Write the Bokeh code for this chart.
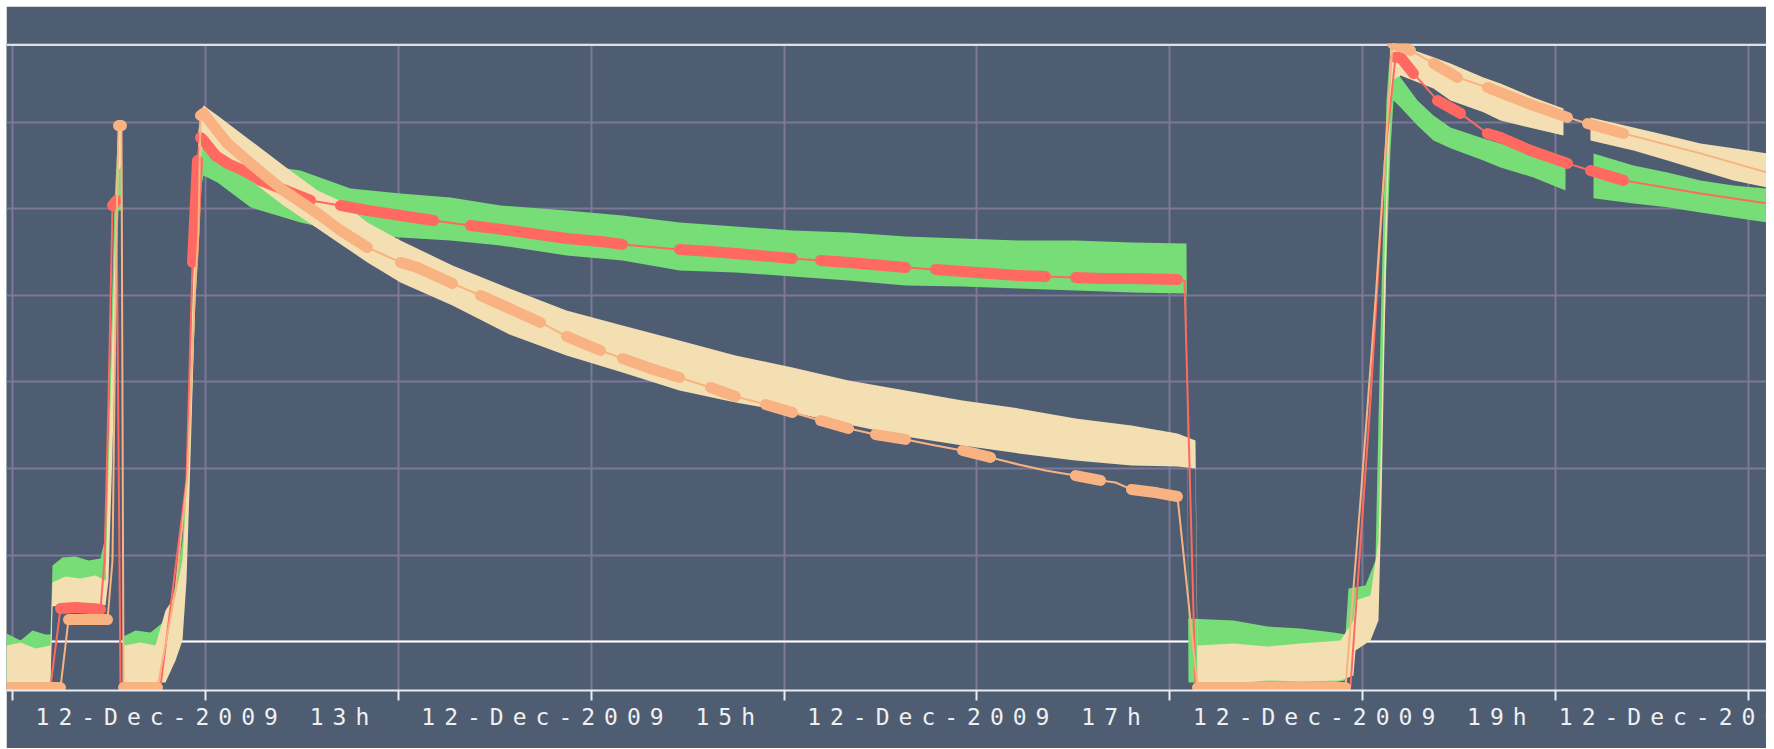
import pandas as pd
from bokeh.plotting import figure
from bokeh.models import FixedTicker, Span, Range1d, CustomJSTickFormatter, DatetimeAxis
from bokeh.embed import file_html
from bokeh.resources import INLINE

BASE = pd.Timestamp("2009-12-12 12:00:00")

# ---------------- axis ticks ----------------
tick_hours = [12, 13, 14, 15, 16, 17, 18, 19, 20, 21]
tick_labels = ["", "12-Dec-2009 13h", "", "12-Dec-2009 15h", "", "12-Dec-2009 17h",
               "", "12-Dec-2009 19h", "", "12-Dec-2009 21h"]
y_grid_values = [0, 5, 10, 15, 20, 25, 30]

# ---------------- data (minutes after 12:00, values) ----------------
# green series: scatter band (upper / lower envelope); None = gap in data
green_min = [-1.87, 2.49, 6.22, 10.26, 11.82, 12.44, 15.55, 19.60, 23.64, 27.37, 28.62, 29.86,
             30.79, 31.73, 32.97, 33.90, 34.53, 38.26, 42.92, 47.59, 50.70, 52.88, 54.12, 55.05,
             55.99, 56.92, 57.85, 58.79, 59.41, 63.76, 74.03, 89.58, 105.13, 120.68, 136.24,
             151.79, 172.32, 189.73, 207.46, 224.88, 242.61, 260.03, 277.76, 295.49, 312.91,
             330.64, 348.05, 365.16, 365.78, 379.78, 390.36, 400.62, 410.88, 414.62, 415.55,
             420.84, 423.95, 424.88, 426.13, 427.37, 428.61, 429.55, 431.72, 437.01, 441.99,
             447.28, 457.54, 462.83, 473.09, 483.05, None, 491.76, 504.20, 514.78, 525.04,
             535.31, 545.57]
green_hi = [0.46, 0.06, 0.64, 0.40, 0.40, 4.39, 4.86, 4.91, 4.68, 4.80, 5.84, 12.20,
            18.55, 25.49, 29.82, 29.82, 0.29, 0.64, 0.52, 1.21, 3.24, 5.84, 9.88, 15.09,
            20.29, 24.33, 28.38, 29.25, 30.11, 28.55, 27.63, 27.22, 26.18, 25.89, 25.66,
            25.20, 24.91, 24.62, 24.22, 23.99, 23.76, 23.64, 23.41, 23.29, 23.18,
            23.18, 23.06, 23.00, 1.33, 1.21, 0.87, 0.75, 0.52, 0.40, 3.06,
            3.24, 4.68, 12.77, 22.60, 31.27, 34.45, 33.58, 32.60, 31.27, 30.40,
            29.71, 29.07, 28.78, 28.38, 27.92, None, 28.21, 27.51, 27.11, 26.65,
            26.36, 26.18]
green_lo = [-2.43, -2.37, -2.43, -2.43, -2.43, 2.25, 2.49, 2.37, 2.49, 2.37, 2.37, 6.99,
            12.20, 18.55, 24.91, 24.91, -2.43, -2.43, -2.43, -1.97, -1.10, 1.21, 4.68, 9.88,
            15.09, 19.71, 22.60, 26.36, 26.93, 26.53, 25.09, 24.22, 23.58, 23.35, 23.18,
            22.89, 22.31, 22.02, 21.44, 21.33, 21.10, 20.87, 20.58, 20.52, 20.40,
            20.29, 20.17, 20.11, -2.37, -2.37, -2.37, -2.37, -2.37, -2.25, 0.06,
            0.35, 1.21, 4.68, 13.93, 22.02, 28.38, 31.27, 30.87, 29.82, 28.96,
            28.50, 27.80, 27.40, 26.82, 26.07, None, 25.61, 25.32, 25.09, 24.80,
            24.51, 24.22]

# wheat series: scatter band (upper / lower envelope)
wheat_min = [-1.87, 2.49, 7.15, 11.82, 12.44, 16.49, 21.15, 25.82, 28.93, 29.86, 31.10, 32.35,
             32.97, 33.90, 34.53, 34.84, 39.81, 44.48, 47.59, 50.70, 52.88, 54.12, 55.05, 55.99,
             56.92, 57.85, 58.79, 59.41, 63.76, 74.03, 84.29, 94.87, 101.71, 110.42, 120.68,
             136.86, 154.59, 172.32, 189.73, 207.46, 224.88, 242.61, 260.03, 277.76, 295.49,
             312.91, 330.64, 348.05, 362.36, 367.96, 368.58, 379.78, 390.36, 400.62, 413.06,
             417.10, 417.73, 422.40, 424.88, 425.82, 426.75, 427.68, 428.61, 429.24, 431.72,
             441.99, 447.28, 457.54, 462.83, 473.09, 482.42, None, 490.82, 504.20, 514.78,
             525.04, 535.31, 545.57]
wheat_hi = [-0.23, -0.06, -0.40, -0.23, 3.41, 3.76, 3.64, 3.81, 3.53, 9.88, 17.98, 26.65,
            29.94, 29.82, 0.06, -0.23, -0.06, -0.23, 1.79, 2.66, 4.68, 8.73, 13.93, 19.71,
            23.76, 29.54, 30.69, 30.98, 30.40, 28.96, 27.51, 26.07, 25.49, 24.22, 23.18,
            21.73, 20.40, 19.13, 18.26, 17.40, 16.53, 15.84, 15.09, 14.51, 13.93,
            13.47, 12.89, 12.48, 12.02, 11.62, -0.23, -0.12, -0.29, -0.12, 0.06,
            1.21, 2.37, 2.66, 5.84, 12.77, 22.02, 28.38, 34.45, 34.62, 34.45,
            33.76, 33.41, 32.60, 32.25, 31.44, 30.81, None, 30.29, 29.71, 29.25,
            28.78, 28.50, 28.21]
wheat_lo = [-2.43, -2.49, -2.43, -2.43, 2.02, 2.14, 2.02, 2.20, 2.08, 3.53, 11.04, 19.71,
            27.22, 27.51, -2.43, -2.43, -2.49, -2.37, -2.37, -1.10, 0.06, 3.53, 8.73, 14.51,
            20.29, 23.76, 28.38, 29.25, 28.38, 26.65, 25.20, 23.87, 23.00, 21.91, 20.75,
            19.42, 17.74, 16.53, 15.55, 14.51, 13.81, 13.24, 12.54, 11.85, 11.33,
            10.87, 10.46, 10.17, 10.12, 10.00, -2.37, -2.43, -2.25, -2.31, -2.25,
            -1.97, -0.52, 0.06, 1.21, 8.15, 17.40, 25.49, 31.27, 32.43, 32.71,
            31.96, 31.27, 30.58, 30.11, 29.65, 29.25, None, 28.96, 28.38, 27.80,
            27.22, 26.65, 26.24]

# red series: trend points; dense = 1 where the samples are packed (drawn as a thick run)
red_min = [-1.87, 11.82, 14.93, 19.60, 24.26, 27.37, 28.62, 29.86, 31.10, 32.35, 33.59, 46.03,
           54.12, 55.99, 57.54, 58.48, 59.41, 63.14, 66.87, 71.85, 77.14, 84.91, 92.69, 102.02,
           110.42, 120.68, 130.95, 142.46, 154.59, 172.32, 182.89, 189.73, 207.46, 217.10,
           224.88, 242.61, 251.32, 260.03, 277.76, 287.09, 295.49, 304.20, 312.91, 321.30,
           330.64, 338.41, 348.05, 362.36, 364.54, 367.96, 400.62, 416.17, 422.40, 427.06,
           430.17, 431.72, 435.77, 443.23, 450.39, 458.78, 462.83, 472.16, 483.67, 490.82,
           501.09, 525.04, 545.57]
red_val = [-2.60, -2.60, 1.91, 1.97, 1.91, 1.85, 4.68, 13.93, 25.20, 25.49, -2.60, -2.60,
           9.31, 21.91, 27.80, 29.13, 28.96, 28.09, 27.63, 27.22, 26.65, 26.07, 25.49, 25.20,
           24.91, 24.62, 24.33, 24.04, 23.76, 23.29, 23.12, 22.95, 22.66, 22.54,
           22.43, 22.14, 22.02, 21.91, 21.62, 21.50, 21.39, 21.27, 21.15, 21.10,
           21.04, 20.98, 20.98, 20.92, 20.87, -2.60, -2.60, -2.60, 13.93, 28.38,
           33.76, 33.76, 32.83, 31.27, 30.52, 29.36, 29.13, 28.38, 27.63, 27.22,
           26.65, 25.89, 25.32]
red_dense = [0, 0, 1, 1, 1, 0, 0, 0, 1, 0, 0, 0,
             0, 1, 0, 1, 1, 1, 1, 1, 1, 1, 0, 1,
             1, 1, 0, 1, 1, 1, 1, 0, 1, 1,
             1, 0, 1, 1, 0, 1, 1, 1, 1, 0,
             1, 1, 1, 0, 0, 0, 0, 0, 0, 0,
             1, 1, 0, 1, 0, 1, 1, 1, 0, 1,
             0, 0, 0]

# orange series
orange_min = [-1.87, 14.93, 17.42, 29.55, 31.10, 32.35, 32.97, 33.90, 34.53, 45.10, 50.70, 54.43,
              56.61, 57.85, 58.48, 59.41, 63.14, 66.87, 74.03, 84.29, 94.87, 102.02, 110.42,
              120.68, 125.97, 136.86, 145.57, 154.59, 164.23, 172.32, 182.89, 189.73, 198.44,
              207.46, 217.10, 224.88, 234.21, 242.61, 251.32, 260.03, 268.43, 277.76, 287.09,
              295.49, 304.20, 312.91, 321.30, 330.64, 338.41, 343.08, 348.05, 355.52, 362.36,
              368.58, 414.62, 419.28, 423.95, 427.06, 429.24, 434.83, 441.99, 449.45, 458.78,
              472.16, 483.67, 489.89, 501.09, 525.04, 545.57]
orange_val = [-2.66, -2.66, 1.27, 1.27, 4.68, 23.93, 29.82, 29.82, -2.66, -2.66, 2.95, 9.59,
              19.71, 23.76, 30.40, 30.52, 29.65, 28.78, 27.63, 26.07, 24.74, 23.76, 22.77,
              21.91, 21.62, 20.69, 20.00, 19.25, 18.44, 17.63, 16.82, 16.36, 15.78,
              15.26, 14.68, 14.16, 13.70, 13.24, 12.77, 12.31, 11.96, 11.68, 11.33,
              11.04, 10.64, 10.23, 9.88, 9.59, 9.31, 9.19, 8.79, 8.61, 8.38,
              -2.66, -2.66, 8.15, 19.71, 28.38, 34.56, 34.16, 33.41, 32.60, 32.02,
              31.04, 30.29, 29.94, 29.36, 28.21, 27.11]
orange_dense = [1, 0, 1, 0, 0, 0, 1, 0, 1, 0, 0, 0,
                0, 0, 1, 1, 1, 1, 1, 1, 1, 1, 0,
                1, 1, 0, 1, 1, 0, 1, 0, 1, 1,
                0, 1, 0, 1, 0, 1, 0, 1, 0, 0,
                1, 0, 0, 0, 1, 0, 0, 1, 1, 0,
                1, 0, 0, 0, 0, 1, 0, 1, 0, 1,
                1, 0, 1, 0, 0, 0]

# ---------------- styling ----------------
BG = "#4f5d73"
GRID = "#7c7896"
GREEN = "#77dd77"
WHEAT = "#f4dfb3"
RED = "#ff6961"
ORANGE = "#f9b282"
AXIS = "#e9ecf0"
LETTER_SPACING_PX = 9
LABEL_SHIFT_PX = 66          # centres the letter-spaced labels on their ticks
PX_PER_MIN = 3.215


def t(mins):
    return [BASE + pd.Timedelta(minutes=m) for m in mins]


def split_gaps(xs, *cols):
    segs, cur = [], [[] for _ in range(len(cols) + 1)]
    for i, x in enumerate(xs):
        if x is None:
            if cur[0]:
                segs.append(cur)
            cur = [[] for _ in range(len(cols) + 1)]
            continue
        cur[0].append(x)
        for j, c in enumerate(cols):
            cur[j + 1].append(c[i])
    if cur[0]:
        segs.append(cur)
    return segs


x_start = BASE + pd.Timedelta(minutes=-1.866)
x_end = BASE + pd.Timedelta(minutes=545.57)

p = figure(width=1760, height=742, x_axis_type="datetime", y_axis_location=None,
           x_range=Range1d(x_start, x_end), y_range=Range1d(-2.83, 34.56),
           output_backend="svg", toolbar_location=None,
           background_fill_color=BG, border_fill_color=BG,
           min_border_left=0, min_border_right=0, min_border_top=37, min_border_bottom=58,
           outline_line_color=None, margin=(6, 8, 0, 6))

tick_ms = [(BASE + pd.Timedelta(hours=h - 12)).value / 1e6 for h in tick_hours]

# axis 1: line + tick marks at the hours
ax = p.xaxis[0]
ax.ticker = FixedTicker(ticks=tick_ms)
ax.formatter = CustomJSTickFormatter(code="return '';")
ax.major_label_text_font_size = "0px"
ax.major_label_standoff = 0
ax.axis_line_color = AXIS
ax.axis_line_width = 2
ax.major_tick_line_color = AXIS
ax.major_tick_line_width = 2
ax.major_tick_out = 10
ax.major_tick_in = 0
ax.minor_tick_line_color = None

# axis 2: the tick labels
shift_ms = LABEL_SHIFT_PX / PX_PER_MIN * 60000.0
lab_pos = [tm - shift_ms for tm in tick_ms]
lab_axis = DatetimeAxis(
    ticker=FixedTicker(ticks=lab_pos),
    formatter=CustomJSTickFormatter(args=dict(tick_pos=lab_pos, tick_text=tick_labels), code="""
        let out = "";
        for (let i = 0; i < tick_pos.length; i++) {
            if (Math.abs(tick_pos[i] - tick) < 1000) { out = tick_text[i]; }
        }
        return out;
    """),
    axis_line_color=None, major_tick_line_color=None, minor_tick_line_color=None,
    major_tick_out=0, major_tick_in=0, major_label_standoff=3,
    major_label_text_font="DejaVu Sans Mono", major_label_text_font_size="23px",
    major_label_text_color="#eef0f2")
p.add_layout(lab_axis, "below")

p.xgrid.ticker = FixedTicker(ticks=tick_ms)
p.xgrid.grid_line_color = GRID
p.xgrid.grid_line_width = 2
p.ygrid.ticker = FixedTicker(ticks=y_grid_values)
p.ygrid.grid_line_color = GRID
p.ygrid.grid_line_width = 2

p.add_layout(Span(location=0, dimension="width", line_color="#ffffff", line_width=2, level="underlay"))
p.add_layout(Span(location=34.48, dimension="width", line_color="#dde1e7", line_width=2, level="underlay"))

# bands
for xs, hi, lo in split_gaps(green_min, green_hi, green_lo):
    p.varea(x=t(xs), y1=lo, y2=hi, fill_color=GREEN)
for xs, hi, lo in split_gaps(wheat_min, wheat_hi, wheat_lo):
    p.varea(x=t(xs), y1=lo, y2=hi, fill_color=WHEAT)


def trend(mins, vals, dense, color):
    xs = t(mins)
    p.line(xs, vals, line_color=color, line_width=2)
    x0, y0, x1, y1 = [], [], [], []
    for i in range(len(xs) - 1):
        if dense[i]:
            x0.append(xs[i]); y0.append(vals[i]); x1.append(xs[i + 1]); y1.append(vals[i + 1])
    p.segment(x0=x0, y0=y0, x1=x1, y1=y1, line_color=color, line_width=11, line_cap="round")


trend(red_min, red_val, red_dense, RED)
trend(orange_min, orange_val, orange_dense, ORANGE)

p.stylesheets = [":host { letter-spacing: %dpx; }" % LETTER_SPACING_PX]

open("out.html", "w").write(file_html(p, INLINE))
